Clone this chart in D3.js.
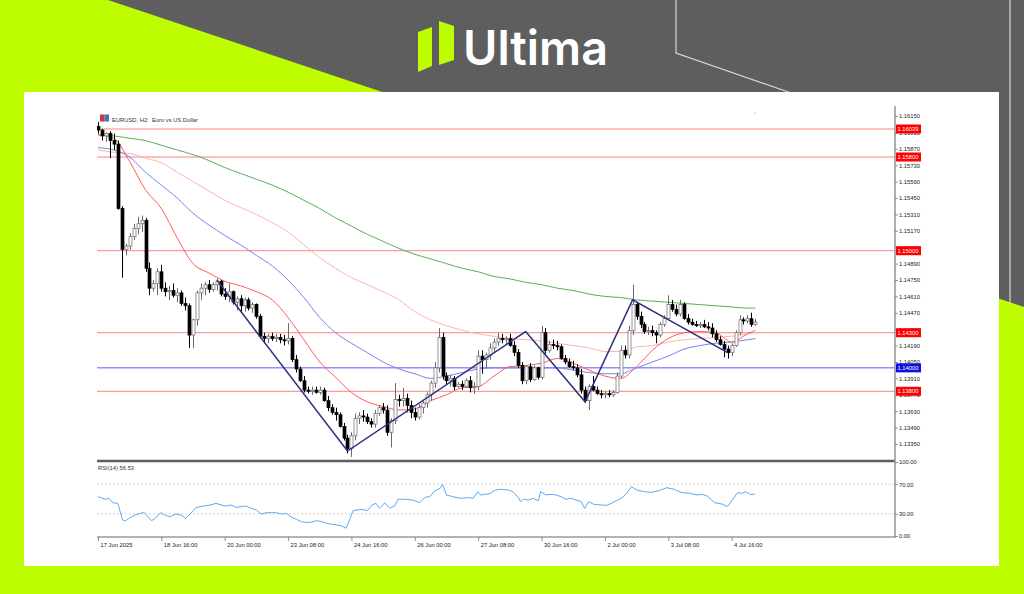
<!DOCTYPE html>
<html><head><meta charset="utf-8">
<script src="https://cdn.jsdelivr.net/npm/d3@7"></script>
<style>html,body{margin:0;padding:0;background:#5f5f5f;}svg{display:block;}</style>
</head><body><svg id="c" width="1024" height="594"></svg>
<script>
// ---------- DATA ----------
const opens=[1.1606,1.1603,1.1598,1.1600,1.1594,1.1591,1.1536,1.1501,1.1504,1.1512,1.1519,1.1523,1.1526,1.1485,1.1468,1.1472,1.1482,1.1468,1.1465,1.1466,1.1462,1.1464,1.1455,1.1453,1.1428,1.1441,1.1464,1.1468,1.1471,1.1467,1.1471,1.1474,1.1463,1.1461,1.1465,1.1456,1.1459,1.1453,1.1458,1.1451,1.1454,1.1444,1.1427,1.1425,1.1427,1.1425,1.1426,1.1424,1.1423,1.1425,1.1407,1.1399,1.1389,1.1381,1.1380,1.1381,1.1379,1.1381,1.1372,1.1366,1.1362,1.1360,1.1350,1.1340,1.1331,1.1342,1.1357,1.1359,1.1358,1.1354,1.1352,1.1361,1.1366,1.1364,1.1345,1.1355,1.1373,1.1372,1.1374,1.1368,1.1362,1.1358,1.1366,1.1370,1.1377,1.1387,1.1400,1.1426,1.1393,1.1389,1.1391,1.1384,1.1386,1.1384,1.1389,1.1383,1.1384,1.1410,1.1407,1.1411,1.1417,1.1422,1.1425,1.1424,1.1425,1.1419,1.1413,1.1402,1.1389,1.1401,1.1390,1.1400,1.1392,1.1430,1.1415,1.1420,1.1419,1.1418,1.1408,1.1405,1.1401,1.1400,1.1394,1.1381,1.1372,1.1384,1.1381,1.1378,1.1377,1.1378,1.1377,1.1379,1.1393,1.1415,1.1411,1.1432,1.1454,1.1444,1.1437,1.1431,1.1432,1.1430,1.1428,1.1437,1.1442,1.1454,1.1450,1.1446,1.1454,1.1442,1.1439,1.1437,1.1436,1.1437,1.1435,1.1434,1.1429,1.1424,1.1420,1.1416,1.1413,1.1419,1.1430,1.1441,1.1440,1.1442,1.1437];
const highs=[1.1610,1.1604,1.1601,1.1602,1.1600,1.1594,1.1538,1.1506,1.1515,1.1523,1.1529,1.1530,1.1528,1.1490,1.1475,1.1485,1.1488,1.1473,1.1470,1.1472,1.1468,1.1466,1.1460,1.1455,1.1442,1.1466,1.1472,1.1473,1.1475,1.1473,1.1476,1.1475,1.1468,1.1472,1.1466,1.1461,1.1462,1.1460,1.1460,1.1456,1.1455,1.1446,1.1430,1.1429,1.1430,1.1429,1.1429,1.1428,1.1438,1.1427,1.1411,1.1401,1.1393,1.1384,1.1384,1.1384,1.1384,1.1383,1.1376,1.1369,1.1366,1.1362,1.1353,1.1343,1.1345,1.1361,1.1362,1.1364,1.1361,1.1357,1.1364,1.1368,1.1370,1.1368,1.1357,1.1387,1.1377,1.1383,1.1378,1.1372,1.1366,1.1369,1.1372,1.1379,1.1389,1.1405,1.1434,1.1430,1.1396,1.1394,1.1393,1.1388,1.1389,1.1391,1.1393,1.1388,1.1415,1.1415,1.1413,1.1421,1.1425,1.1430,1.1429,1.1427,1.1429,1.1423,1.1416,1.1405,1.1402,1.1404,1.1402,1.1401,1.1436,1.1434,1.1423,1.1424,1.1423,1.1420,1.1411,1.1408,1.1406,1.1403,1.1399,1.1384,1.1386,1.1393,1.1384,1.1381,1.1380,1.1381,1.1381,1.1396,1.1419,1.1419,1.1436,1.1471,1.1456,1.1448,1.1439,1.1435,1.1436,1.1432,1.1439,1.1445,1.1462,1.1458,1.1454,1.1458,1.1456,1.1446,1.1442,1.1440,1.1439,1.1441,1.1439,1.1438,1.1432,1.1427,1.1423,1.1419,1.1421,1.1432,1.1445,1.1443,1.1445,1.1447,1.1442];
const lows=[1.1600,1.1594,1.1593,1.1579,1.1586,1.1535,1.1477,1.1496,1.1501,1.1509,1.1514,1.1516,1.1482,1.1462,1.1465,1.1462,1.1465,1.1461,1.1458,1.1460,1.1456,1.1453,1.1449,1.1417,1.1417,1.1436,1.1458,1.1462,1.1464,1.1465,1.1466,1.1461,1.1458,1.1456,1.1454,1.1449,1.1448,1.1448,1.1449,1.1447,1.1442,1.1425,1.1422,1.1421,1.1423,1.1422,1.1421,1.1419,1.1420,1.1405,1.1396,1.1388,1.1379,1.1378,1.1377,1.1378,1.1377,1.1371,1.1363,1.1360,1.1355,1.1349,1.1338,1.1327,1.1324,1.1338,1.1352,1.1354,1.1352,1.1349,1.1349,1.1359,1.1361,1.1342,1.1332,1.1352,1.1367,1.1367,1.1362,1.1357,1.1355,1.1356,1.1361,1.1366,1.1372,1.1383,1.1396,1.1390,1.1386,1.1384,1.1381,1.1383,1.1381,1.1383,1.1379,1.1378,1.1381,1.1395,1.1400,1.1407,1.1413,1.1419,1.1421,1.1420,1.1418,1.1410,1.1400,1.1386,1.1386,1.1388,1.1389,1.1390,1.1390,1.1412,1.1413,1.1416,1.1415,1.1407,1.1403,1.1400,1.1398,1.1392,1.1378,1.1370,1.1364,1.1380,1.1377,1.1374,1.1374,1.1375,1.1375,1.1378,1.1391,1.1408,1.1408,1.1428,1.1441,1.1434,1.1429,1.1428,1.1427,1.1421,1.1426,1.1435,1.1441,1.1448,1.1444,1.1444,1.1441,1.1437,1.1436,1.1435,1.1434,1.1434,1.1432,1.1426,1.1422,1.1419,1.1409,1.1408,1.1410,1.1418,1.1428,1.1437,1.1438,1.1435,1.1436];
const closes=[1.1603,1.1598,1.1600,1.1594,1.1591,1.1536,1.1501,1.1504,1.1512,1.1519,1.1523,1.1526,1.1485,1.1468,1.1472,1.1482,1.1468,1.1465,1.1466,1.1462,1.1464,1.1455,1.1453,1.1428,1.1441,1.1464,1.1468,1.1471,1.1467,1.1471,1.1474,1.1463,1.1461,1.1465,1.1456,1.1459,1.1453,1.1458,1.1451,1.1454,1.1444,1.1427,1.1425,1.1427,1.1425,1.1426,1.1424,1.1423,1.1425,1.1407,1.1399,1.1389,1.1381,1.1380,1.1381,1.1379,1.1381,1.1372,1.1366,1.1362,1.1360,1.1350,1.1340,1.1331,1.1342,1.1357,1.1359,1.1358,1.1354,1.1352,1.1361,1.1366,1.1364,1.1345,1.1355,1.1373,1.1372,1.1374,1.1368,1.1362,1.1358,1.1366,1.1370,1.1377,1.1387,1.1400,1.1426,1.1393,1.1389,1.1391,1.1384,1.1386,1.1384,1.1389,1.1383,1.1384,1.1410,1.1407,1.1411,1.1417,1.1422,1.1425,1.1424,1.1425,1.1419,1.1413,1.1402,1.1389,1.1401,1.1390,1.1400,1.1392,1.1430,1.1415,1.1420,1.1419,1.1418,1.1408,1.1405,1.1401,1.1400,1.1394,1.1381,1.1372,1.1384,1.1381,1.1378,1.1377,1.1378,1.1377,1.1379,1.1393,1.1415,1.1411,1.1432,1.1454,1.1444,1.1437,1.1431,1.1432,1.1430,1.1428,1.1437,1.1442,1.1454,1.1450,1.1446,1.1454,1.1442,1.1439,1.1437,1.1436,1.1437,1.1435,1.1434,1.1429,1.1424,1.1420,1.1416,1.1413,1.1419,1.1430,1.1441,1.1440,1.1442,1.1437,1.1439];

const maIdx=[0,4,8,12,16,20,24,28,32,36,40,44,48,52,56,60,64,68,72,76,80,84,88,92,96,100,104,108,112,116,120,124,128,132,136,140,144,148,152,156,160,164,166];
const maRed=[1.1599,1.1596,1.1576,1.1552,1.1536,1.1511,1.1489,1.1481,1.1474,1.1470,1.1465,1.1458,1.1443,1.1424,1.1405,1.1392,1.1379,1.1371,1.1367,1.1364,1.1365,1.1372,1.1377,1.1383,1.1384,1.1393,1.1401,1.1402,1.1404,1.1408,1.1404,1.1398,1.1393,1.1391,1.1401,1.1415,1.1425,1.1430,1.1431,1.1430,1.1422,1.1429,1.1432];
const maPink=[1.1586,1.1584,1.1583,1.1579,1.1575,1.1567,1.1559,1.1551,1.1543,1.1537,1.1531,1.1524,1.1516,1.1505,1.1494,1.1485,1.1477,1.1471,1.1465,1.1458,1.1448,1.1441,1.1436,1.1432,1.1429,1.1427,1.1425,1.1424,1.1423,1.1421,1.1419,1.1417,1.1414,1.1414,1.1418,1.1419,1.1422,1.1424,1.1425,1.1426,1.1427,1.1429,1.1430];
const maBlue=[1.1588,1.1586,1.1580,1.1567,1.1556,1.1545,1.1532,1.1522,1.1513,1.1505,1.1496,1.1487,1.1475,1.1460,1.1443,1.1430,1.1421,1.1413,1.1405,1.1399,1.1395,1.1391,1.1393,1.1396,1.1399,1.1400,1.1400,1.1400,1.1400,1.1400,1.1398,1.1396,1.1395,1.1395,1.1400,1.1405,1.1410,1.1416,1.1419,1.1421,1.1422,1.1424,1.1425];
const maGreen=[1.1599,1.1598,1.1596,1.1594,1.1590,1.1586,1.1582,1.1577,1.1571,1.1566,1.1561,1.1556,1.1550,1.1543,1.1536,1.1528,1.1521,1.1514,1.1508,1.1502,1.1497,1.1493,1.1489,1.1485,1.1482,1.1478,1.1476,1.1473,1.1471,1.1468,1.1466,1.1463,1.1461,1.1460,1.1458,1.1457,1.1456,1.1455,1.1454,1.1453,1.1452,1.1451,1.1451];

const zigIdx=[30,63,108,123,135,159];
const zigPrice=[1.1475,1.1329,1.1431,1.1371,1.1458,1.1413];

const redLevels=[1.16039,1.15800,1.15000,1.14300,1.13800];
const blueLevels=[1.14000];

const rsiIdx=[0,1.8,2.8,3.7,5,6.2,6.9,8.2,9.4,10.7,11.7,12.6,13.5,14.5,15.8,17.1,18.3,19.6,20.9,22.1,23.4,24.7,26.6,28.5,29.8,31.1,32.3,33.6,34.9,36.1,37.4,38.7,40,41.2,42.5,43.8,45.1,46.3,47.6,48.9,50.1,51.4,52.7,54,55.2,56.5,57.8,59,60.3,61.6,62.6,63.5,64.4,65.4,66.7,68,69.2,70.2,71.1,72.4,73.7,74.9,75.8,77.5,79.4,81.3,82.6,83.8,85.1,86.4,87,88,89.6,91.5,93.4,94.7,95.9,96.6,97.8,99.1,100.4,101.7,103.6,104.8,106.1,106.7,107.4,108.7,109.9,111.2,111.8,113.1,114.4,115.7,116.9,118.2,119.5,120.7,122,122.9,123.9,125.2,127.1,128.4,129.6,130.9,132.2,133.5,134.7,136,137.9,139.8,141.7,143.6,145.5,147.4,149.4,151.3,152.5,153.8,155.7,157.6,158.9,160.2,161.5,162.7,163.6,164.6,165.9];
const rsiVals=[53.2,49.6,50.9,45.0,44.1,21.6,20.3,25.2,28.4,30.6,31.5,26.1,20.7,23.9,31.5,27.5,26.1,29.7,28.4,23.9,30.6,38.3,40.5,41.9,44.1,41.9,40.5,41.9,38.7,39.6,40.5,37.4,35.1,29.7,31.5,31.5,31.5,29.7,30.6,25.2,22.5,19.4,18.0,18.9,20.7,19.4,17.1,15.8,14.9,13.5,10.4,21.6,34.2,35.1,36.0,34.2,41.9,44.1,37.4,45.0,37.4,40.5,49.6,49.6,48.6,45.0,52.3,53.2,61.3,64.4,69.8,55.4,53.2,50.9,51.8,50.9,59.9,55.4,56.3,57.7,62.2,63.1,62.2,59.9,52.3,46.4,49.6,48.6,50.9,47.7,59.9,55.4,56.3,55.4,53.2,49.6,50.9,48.6,46.4,37.4,46.4,42.8,41.9,41.4,44.1,47.7,50.9,57.7,66.7,62.2,59.9,59.0,61.3,65.3,63.1,58.6,57.7,55.4,56.3,54.1,45.0,43.2,39.6,48.6,58.6,57.7,59.9,56.3,56.5];
const rsiLevels=[70,30];

const priceTicks=[1.16150,1.16010,1.15870,1.15730,1.15590,1.15450,1.15310,1.15170,1.15030,1.14890,1.14750,1.14610,1.14470,1.14330,1.14190,1.14050,1.13910,1.13770,1.13630,1.13490,1.13350];
const rsiTicks=[100,70,30,0];
const xTickIdx=[0,16,32,48,64,80,96,112,128,144,160];
const xLabels=["17 Jun 2025","18 Jun 16:00","20 Jun 00:00","23 Jun 08:00","24 Jun 16:00","26 Jun 00:00","27 Jun 08:00","30 Jun 16:00","2 Jul 00:00","3 Jul 08:00","4 Jul 16:00"];
const title="EURUSD, H2:  Euro vs US Dollar";
const rsiTitle="RSI(14) 56.53";
const brand="Ultima";

// ---------- DRAW ----------
const svg=d3.select('#c');
const FONT='"Liberation Sans", Arial, sans-serif';
svg.append('rect').attr('width',1024).attr('height',594).attr('fill','#bdfd00');
svg.append('polygon').attr('points','108,0 1024,0 1024,307').attr('fill','#5e5e5e');
svg.append('polyline').attr('points','676,0 676,53 800,96').attr('fill','none').attr('stroke','#d8d8d8').attr('stroke-width',1.2);
svg.append('line').attr('x1',1010).attr('x2',1010).attr('y1',0).attr('y2',303).attr('stroke','#d8d8d8').attr('stroke-width',1.2);
svg.append('polygon').attr('points','418,32 432,27 432,66 418,72').attr('fill','#bdfd00');
svg.append('polygon').attr('points','439,21 454,26 454,60 439,65').attr('fill','#bdfd00');
svg.append('text').attr('x',463).attr('y',65).text(brand).attr('fill','#fff')
  .attr('font-family','Inter, "Open Sans", sans-serif').attr('font-weight',600).attr('font-size',48)
  .attr('textLength',145).attr('lengthAdjust','spacingAndGlyphs');
svg.append('rect').attr('x',24).attr('y',92).attr('width',975).attr('height',474).attr('fill','#fff');

const x=d3.scaleLinear().domain([0,160]).range([98,731.6]);
const y=d3.scaleLinear().domain([1.1615,1.1335]).range([116,444]);
const r=d3.scaleLinear().domain([0,100]).range([536,462]);
const L=97,R=895,TOP=106,SEP=461,BOT=537;

const defs=svg.append('defs');
defs.append('clipPath').attr('id','mc').append('rect').attr('x',L).attr('y',TOP).attr('width',R-L).attr('height',SEP-TOP-1);
defs.append('clipPath').attr('id','rc').append('rect').attr('x',L).attr('y',SEP+1).attr('width',R-L).attr('height',BOT-SEP-2);

const main=svg.append('g').attr('clip-path','url(#mc)');
main.selectAll('.rl').data(redLevels).join('line').attr('x1',L).attr('x2',R)
  .attr('y1',d=>y(d)).attr('y2',d=>y(d)).attr('stroke','#ff8080').attr('stroke-width',1);
main.selectAll('.bl').data(blueLevels).join('line').attr('x1',L).attr('x2',R)
  .attr('y1',d=>y(d)).attr('y2',d=>y(d)).attr('stroke','#5a5aff').attr('stroke-width',1);

const ma=(arr)=>maIdx.map((i,k)=>[i,arr[k]]);
const ln=d3.line().x(d=>x(d[0])).y(d=>y(d[1])).curve(d3.curveMonotoneX);
[[maGreen,'#58b058'],[maPink,'#ffb4a8'],[maBlue,'#8080f0'],[maRed,'#ff5a5a']].forEach(([a,c])=>{
  main.append('path').attr('d',ln(ma(a))).attr('fill','none').attr('stroke',c).attr('stroke-width',1);
});

const bars=d3.range(opens.length).map(i=>({i,o:opens[i],h:highs[i],l:lows[i],c:closes[i]}));
const cg=main.append('g');
cg.selectAll('line.w').data(bars).join('line')
  .attr('x1',d=>Math.round(x(d.i))+0.5).attr('x2',d=>Math.round(x(d.i))+0.5)
  .attr('y1',d=>y(d.h)).attr('y2',d=>y(d.l))
  .attr('stroke',d=>d.c>=d.o?'#6a6a6a':'#000').attr('stroke-width',1);
cg.selectAll('rect.b').data(bars).join('rect')
  .attr('x',d=>Math.round(x(d.i))-1)
  .attr('width',3)
  .attr('y',d=>y(Math.max(d.o,d.c)))
  .attr('height',d=>Math.max(1,Math.abs(y(d.o)-y(d.c))))
  .attr('fill',d=>d.c>d.o?'#fff':'#000')
  .attr('stroke',d=>d.c>d.o?'#6a6a6a':'#000').attr('stroke-width',0.7);

const zl=d3.line().x(d=>x(d[0])).y(d=>y(d[1]));
main.append('path').attr('d',zl(zigIdx.map((i,k)=>[i,zigPrice[k]]))).attr('fill','none')
  .attr('stroke','#2f2f80').attr('stroke-width',1.5);

const rg=svg.append('g').attr('clip-path','url(#rc)');
rg.selectAll('line').data(rsiLevels).join('line').attr('x1',L).attr('x2',R)
  .attr('y1',d=>r(d)).attr('y2',d=>r(d)).attr('stroke','#c8c8c8').attr('stroke-dasharray','2,2').attr('stroke-width',0.8);
rg.append('path').attr('d',d3.line().x(d=>x(d[0])).y(d=>r(d[1]))(rsiIdx.map((i,k)=>[i,rsiVals[k]])))
  .attr('fill','none').attr('stroke','#5aaaf5').attr('stroke-width',1);

svg.append('line').attr('x1',L).attr('x2',R).attr('y1',SEP).attr('y2',SEP).attr('stroke','#606060').attr('stroke-width',2.5);
svg.append('line').attr('x1',L).attr('x2',R+1).attr('y1',BOT).attr('y2',BOT).attr('stroke','#9a9a9a').attr('stroke-width',1.6);
svg.append('line').attr('x1',R).attr('x2',R).attr('y1',TOP).attr('y2',BOT).attr('stroke','#9a9a9a').attr('stroke-width',1.6);

function styleAxis(g){
  g.select('.domain').remove();
  g.selectAll('.tick line').attr('stroke','#777').attr('stroke-width',0.8);
  g.selectAll('.tick text').attr('font-family',FONT).attr('font-size',5.8).attr('fill','#222');
}
svg.append('g').attr('transform',`translate(${R},0)`)
  .call(d3.axisRight(y).tickValues(priceTicks).tickFormat(d3.format('.5f')).tickSize(3).tickPadding(1))
  .call(styleAxis);
svg.append('g').attr('transform',`translate(${R},0)`)
  .call(d3.axisRight(r).tickValues(rsiTicks).tickFormat(d3.format('.2f')).tickSize(3).tickPadding(1))
  .call(styleAxis);
const xa=svg.append('g').attr('transform',`translate(0,${BOT})`)
  .call(d3.axisBottom(x).tickValues(xTickIdx).tickFormat((d,k)=>xLabels[k]).tickSize(4).tickPadding(2))
  .call(styleAxis);
xa.selectAll('.tick text').attr('text-anchor','start').attr('dx',2);

const lab=svg.append('g');
function levelLabel(v,col){
  const yy=y(v);
  lab.append('rect').attr('x',R+1).attr('y',yy-4.5).attr('width',25).attr('height',9).attr('fill',col);
  lab.append('text').attr('x',R+2.5).attr('y',yy+2).text(d3.format('.5f')(v))
    .attr('font-family',FONT).attr('font-size',5.8).attr('fill','#fff');
}
redLevels.forEach(v=>levelLabel(v,'#ff0000'));
blueLevels.forEach(v=>levelLabel(v,'#1010e0'));

svg.append('rect').attr('x',100).attr('y',114.5).attr('width',4.5).attr('height',7).attr('fill','#c83a3a');
svg.append('rect').attr('x',104.5).attr('y',114.5).attr('width',4.5).attr('height',7).attr('fill','#4a6fc0');
svg.append('text').attr('x',112).attr('y',121.5).text(title).attr('font-family',FONT).attr('font-size',5.8).attr('fill','#333').attr('xml:space','preserve');
svg.append('text').attr('x',98).attr('y',469.5).text(rsiTitle).attr('font-family',FONT).attr('font-size',5.8).attr('fill','#333');
svg.append('circle').attr('cx',755).attr('cy',113).attr('r',0.6).attr('fill','#888');
</script>
</body></html>
